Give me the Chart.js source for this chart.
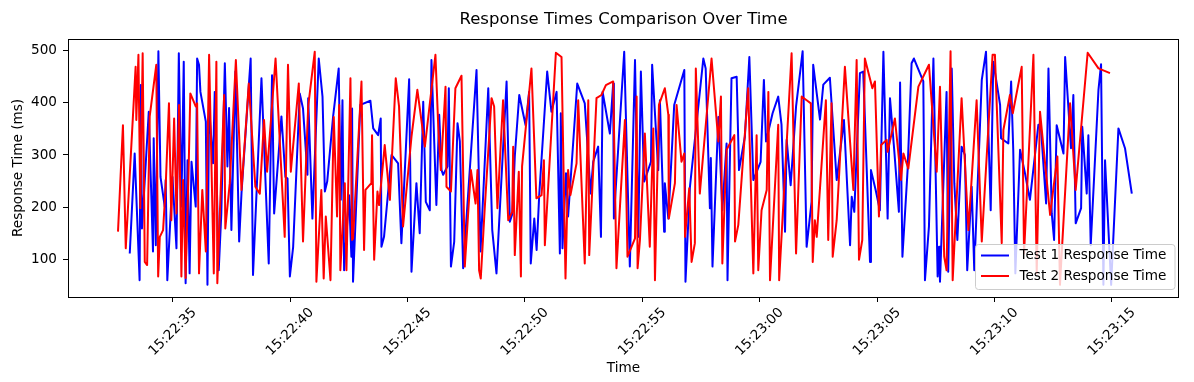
<!DOCTYPE html>
<html>
<head>
<meta charset="utf-8">
<script src="https://cdn.jsdelivr.net/npm/chart.js@4.4.0/dist/chart.umd.min.js"></script>
<style>
html,body{margin:0;padding:0;background:#fff;overflow:hidden}
#wrap{width:1194px;height:382px;position:relative}
</style>
</head>
<body>
<div id="wrap"><canvas id="c" width="1194" height="382"></canvas></div>
<script>
const chartTitle = 'Response Times Comparison Over Time';
const xAxisLabel = 'Time';
const yAxisLabel = 'Response Time (ms)';
const seriesNames = ['Test 1 Response Time', 'Test 2 Response Time'];
const seriesColors = ['#0000ff', '#ff0000'];

// x values: seconds after 15:22:00
const xTickValues = [35, 40, 45, 50, 55, 60, 65, 70, 75];
const xTickLabels = ['15:22:35', '15:22:40', '15:22:45', '15:22:50', '15:22:55', '15:23:00', '15:23:05', '15:23:10', '15:23:15'];
const yTickValues = [100, 200, 300, 400, 500];

const test1Times = [
33.17,33.38,33.59,33.64,33.69,33.98,34.16,34.19,34.28,34.39,34.48,34.66,34.70,34.77,34.99,35.16,35.26,35.37,35.47,35.55,
35.63,35.72,35.80,35.98,36.04,36.12,36.18,36.41,36.48,36.55,36.72,
36.79,36.96,37.07,37.22,37.33,37.40,37.50,37.67,37.83,37.93,38.32,38.42,38.78,39.09,39.23,39.32,39.63,39.80,39.89,39.99,
40.13,40.41,40.55,40.74,40.77,40.95,41.22,
41.38,41.48,41.58,41.83,42.07,42.16,42.23,42.30,42.51,42.61,42.64,42.68,42.99,43.42,43.54,43.75,43.86,43.89,44.00,44.32,
44.60,44.74,45.07,45.17,45.38,45.52,45.67,
45.78,45.95,46.02,46.23,46.35,46.45,46.52,46.70,46.76,46.85,46.99,47.13,47.23,47.37,47.94,48.11,48.44,48.61,48.79,49.22,
49.36,49.47,49.57,49.76,50.03,50.18,
50.25,50.40,50.50,50.61,50.95,51.13,51.35,51.49,51.53,51.60,51.75,51.84,52.23,52.55,52.80,52.91,53.12,53.24,53.31,53.62,
53.76,53.79,54.23,54.47,
54.69,54.83,54.94,55.08,55.37,55.42,55.68,55.75,55.93,55.96,56.11,56.36,56.79,56.84,57.03,57.60,57.70,57.88,57.92,57.99,
58.24,58.41,58.59,58.63,58.80,59.02,59.12,
59.37,59.56,59.73,60.04,60.18,60.27,60.55,60.79,60.93,61.08,61.15,61.32,61.55,61.83,62.00,62.21,62.28,62.57,62.71,62.99,
63.28,63.59,
63.85,63.92,64.03,64.27,64.41,64.70,64.74,64.94,65.12,65.27,65.45,65.55,65.73,65.93,65.98,66.08,66.30,66.47,66.57,66.97,
67.04,67.21,67.40,67.58,67.64,67.68,67.96,68.03,
68.18,68.29,68.42,68.60,68.74,68.84,69.03,69.14,69.46,69.64,69.84,69.95,70.24,70.28,70.59,70.71,70.80,70.89,71.09,71.30,
71.51,71.87,71.97,72.20,72.30,72.44,72.54,
72.65,72.94,73.01,73.26,73.36,73.46,73.69,73.74,73.93,74.00,74.10,74.43,74.54,74.64,74.71,74.97,75.28,75.56,75.85
];
const test1Values = [
111,303,60,434,159,383,115,332,127,499,258,201,252,60,258,121,495,201,479,54,
290,73,287,201,485,473,421,364,51,389,284,
421,79,188,476,278,390,156,460,134,227,485,70,447,92,453,188,374,258,255,67,
124,418,389,262,409,178,485,
412,230,249,373,466,214,405,79,223,105,389,57,396,404,351,338,370,124,143,300,
284,131,445,76,246,150,402,
210,194,482,204,377,271,262,278,428,86,134,361,326,83,463,115,428,156,73,441,
172,188,297,415,357,421,
92,178,118,223,460,383,421,111,380,121,265,182,437,399,226,287,316,143,421,341,
437,178,498,86,
482,143,460,249,287,473,271,405,153,246,178,396,463,57,239,485,466,198,294,86,
373,194,322,60,447,450,271,
335,488,252,287,444,326,380,412,358,153,329,242,393,499,124,210,473,368,435,448,
252,367,
127,220,191,457,460,95,271,233,194,498,178,409,310,191,439,105,271,476,485,441,
60,163,485,67,124,57,421,76,
466,246,137,316,300,79,239,79,444,498,194,479,396,332,322,441,310,73,310,265,
214,358,358,207,466,188,137,
357,303,488,313,415,169,198,354,226,338,127,425,474,51,290,51,351,313,226
];

const test2Times = [
32.67,32.88,33.00,33.42,33.45,33.54,33.62,33.72,33.81,33.91,34.02,34.30,34.38,34.45,34.59,34.70,34.84,34.94,35.06,35.16,
35.27,35.37,35.44,35.55,35.67,35.75,35.98,36.04,36.12,36.26,36.41,36.55,36.75,
36.86,36.90,37.19,37.24,37.43,37.69,37.93,38.24,38.52,38.71,38.89,39.02,39.38,39.77,39.91,40.03,40.37,40.55,40.77,41.05,
41.12,
41.33,41.43,41.52,41.72,41.86,42.00,42.09,42.14,42.33,42.40,42.57,42.64,42.68,43.04,43.15,43.21,43.46,43.49,43.58,43.72,
43.79,44.03,44.25,44.50,44.64,44.81,45.17,45.42,
45.74,46.19,46.31,46.42,46.62,46.66,46.85,47.04,47.30,47.44,47.70,47.90,47.98,48.05,48.12,48.29,48.58,48.69,48.83,49.07,
49.29,49.46,49.50,49.57,49.74,49.83,49.88,
50.28,50.49,50.71,50.81,50.85,51.32,51.56,51.73,51.84,51.94,52.20,52.27,52.55,52.70,52.74,53.05,53.26,53.45,53.76,53.90,
54.26,54.37,
54.69,54.76,54.80,54.90,55.11,55.32,55.47,55.54,55.71,55.96,56.11,56.13,56.39,56.46,56.67,56.79,56.82,57.00,57.10,57.24,
57.28,57.45,57.95,58.24,58.35,58.41,58.59,58.92,58.95,59.09,
59.51,59.73,59.87,59.94,60.08,60.30,60.37,60.44,60.79,60.83,61.36,61.55,61.79,62.00,62.18,62.26,62.35,62.43,62.82,62.92,
63.06,63.11,63.28,
63.63,63.99,64.13,64.23,64.37,64.48,64.80,64.91,65.08,65.17,65.41,65.45,65.76,66.02,66.12,66.33,66.76,67.21,67.54,67.68,
67.86,67.96,
68.13,68.22,68.60,68.89,69.24,69.46,69.92,70.02,70.31,70.38,70.66,70.78,71.16,71.26,71.66,71.80,71.94,72.37,
72.68,72.79,73.22,73.46,73.97,74.43,74.92
];
const test2Values = [
153,357,121,469,367,492,198,495,95,89,374,473,67,143,156,239,399,175,370,188,
396,67,252,64,258,418,393,399,73,233,115,492,73,
479,54,415,159,246,482,233,437,239,226,367,268,485,143,473,268,437,134,393,498,
57,
233,63,182,60,373,182,396,79,246,79,447,137,140,441,118,233,246,338,99,230,
204,319,214,447,393,163,335,425,
316,492,354,271,431,239,230,428,452,86,271,207,271,79,63,198,409,393,198,405,
175,191,316,108,268,67,278,
466,217,223,290,127,496,488,63,271,223,284,405,92,405,108,409,415,434,441,83,
367,105,
140,412,83,137,341,124,351,60,396,428,377,178,246,396,287,303,143,236,95,131,
466,226,485,326,412,92,310,338,134,166,
428,73,338,79,194,233,421,60,358,60,495,111,412,405,399,95,175,143,405,137,
399,105,175,
469,233,482,99,137,485,428,441,182,319,329,306,370,252,303,274,431,473,268,431,
105,79,
499,60,409,156,405,134,492,492,131,348,415,380,469,111,492,73,383,185,
297,51,399,233,496,466,457
];

const FONT = '"DejaVu Sans", "Liberation Sans", sans-serif';

function toPoints(times, values) {
  return times.map((t, i) => ({ x: t, y: values[i] }));
}

const decoPlugin = {
  id: 'deco',
  afterDraw(chart) {
    const ctx = chart.ctx;
    const a = chart.chartArea;
    const xs = chart.scales.x;
    ctx.save();
    // axes frame (all four spines)
    ctx.strokeStyle = '#000';
    ctx.lineWidth = 1;
    ctx.strokeRect(Math.round(a.left) + 0.5, Math.round(a.top) + 0.5,
                   Math.round(a.right - a.left) - 1, Math.round(a.bottom - a.top));
    ctx.fillStyle = '#000';
    // title
    ctx.font = '16.5px ' + FONT;
    ctx.textAlign = 'center';
    ctx.textBaseline = 'middle';
    ctx.fillText(chartTitle, (a.left + a.right) / 2, 20);
    // x axis label
    ctx.font = '13.6px ' + FONT;
    ctx.fillText(xAxisLabel, (a.left + a.right) / 2, 368);
    // y axis label
    ctx.save();
    ctx.translate(18, (a.top + a.bottom) / 2);
    ctx.rotate(-Math.PI / 2);
    ctx.fillText(yAxisLabel, 0, 0);
    ctx.restore();
    // rotated x tick labels, centred under each tick
    ctx.font = '13.6px ' + FONT;
    xTickValues.forEach((v, i) => {
      const px = xs.getPixelForValue(v);
      const w = ctx.measureText(xTickLabels[i]).width;
      const cy = a.bottom + 9.5 + (w + 14) * 0.7071 / 2 - 1;
      ctx.save();
      ctx.translate(px, cy);
      ctx.rotate(-Math.PI / 4);
      ctx.textAlign = 'center';
      ctx.textBaseline = 'middle';
      ctx.fillText(xTickLabels[i], 0, 0);
      ctx.restore();
    });
    // legend (lower right)
    const lx = 975.5, ly = 244.5, lw = 199.5, lh = 45, r = 3;
    ctx.beginPath();
    ctx.moveTo(lx + r, ly);
    ctx.lineTo(lx + lw - r, ly);
    ctx.arcTo(lx + lw, ly, lx + lw, ly + r, r);
    ctx.lineTo(lx + lw, ly + lh - r);
    ctx.arcTo(lx + lw, ly + lh, lx + lw - r, ly + lh, r);
    ctx.lineTo(lx + r, ly + lh);
    ctx.arcTo(lx, ly + lh, lx, ly + lh - r, r);
    ctx.lineTo(lx, ly + r);
    ctx.arcTo(lx, ly, lx + r, ly, r);
    ctx.closePath();
    ctx.fillStyle = 'rgba(255,255,255,0.8)';
    ctx.fill();
    ctx.strokeStyle = '#cccccc';
    ctx.lineWidth = 1;
    ctx.stroke();
    const rows = [255.5, 276];
    chart.data.datasets.forEach((ds, i) => {
      const yy = rows[i];
      ctx.strokeStyle = ds.borderColor;
      ctx.lineWidth = 2;
      ctx.beginPath();
      ctx.moveTo(981, yy);
      ctx.lineTo(1009, yy);
      ctx.stroke();
      ctx.fillStyle = '#000';
      ctx.font = '13.6px ' + FONT;
      ctx.textAlign = 'left';
      ctx.textBaseline = 'middle';
      ctx.fillText(seriesNames[i], 1019.5, yy);
    });
    ctx.restore();
  }
};

new Chart(document.getElementById('c'), {
  type: 'line',
  data: {
    datasets: [
      {
        label: seriesNames[0],
        data: toPoints(test1Times, test1Values),
        borderColor: seriesColors[0],
        backgroundColor: seriesColors[0],
        borderWidth: 2,
        pointRadius: 0,
        pointHoverRadius: 0,
        tension: 0,
        fill: false,
        borderJoinStyle: 'round',
        order: 1
      },
      {
        label: seriesNames[1],
        data: toPoints(test2Times, test2Values),
        borderColor: seriesColors[1],
        backgroundColor: seriesColors[1],
        borderWidth: 2,
        pointRadius: 0,
        pointHoverRadius: 0,
        tension: 0,
        fill: false,
        borderJoinStyle: 'round',
        order: 0
      }
    ]
  },
  options: {
    responsive: false,
    animation: false,
    devicePixelRatio: 1,
    events: [],
    layout: { padding: { left: 0, right: 15, top: 39, bottom: 0 } },
    plugins: {
      legend: { display: false },
      title: { display: false },
      tooltip: { enabled: false }
    },
    scales: {
      x: {
        type: 'linear',
        min: 30.54,
        max: 77.86,
        afterBuildTicks: (s) => { s.ticks = xTickValues.map(v => ({ value: v })); },
        afterFit: (s) => { s.height = 85; },
        ticks: { display: false },
        grid: { display: true, drawOnChartArea: false, drawTicks: true, tickLength: 5, color: '#000', lineWidth: 1 },
        border: { display: false }
      },
      y: {
        type: 'linear',
        min: 27.7,
        max: 522.4,
        afterBuildTicks: (s) => { s.ticks = yTickValues.map(v => ({ value: v })); },
        afterFit: (s) => { s.width = 68; },
        ticks: { color: '#000', font: { family: FONT, size: 13.6 }, padding: 6 },
        grid: { display: true, drawOnChartArea: false, drawTicks: true, tickLength: 5, color: '#000', lineWidth: 1 },
        border: { display: false }
      }
    }
  },
  plugins: [decoPlugin]
});
</script>
</body>
</html>
